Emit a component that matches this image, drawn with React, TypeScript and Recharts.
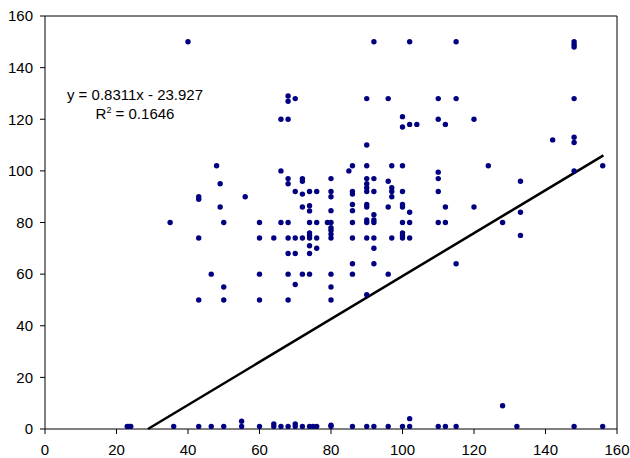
import React from 'react';
import { ScatterChart, Scatter, XAxis, YAxis, ReferenceLine } from 'recharts';

// axis ticks
const xTicks = [0, 20, 40, 60, 80, 100, 120, 140, 160];
const yTicks = [0, 20, 40, 60, 80, 100, 120, 140, 160];

// points, grouped by area
const topPoints: [number, number][] = [
  [40, 150], [92, 150], [102, 150], [115, 150], [148, 150], [148, 149], [148, 148],
  [68, 129], [68, 127], [70, 128], [66, 120], [68, 120], [90, 128], [96, 128],
  [100, 121], [100, 117], [102, 118], [104, 118], [90, 110],
  [110, 128], [115, 128], [148, 128], [110, 120], [112, 118], [120, 120],
  [142, 112], [148, 113], [148, 111],
];

const leftPoints: [number, number][] = [
  [48, 102], [49, 95], [43, 90], [43, 89], [49, 86], [35, 80], [50, 80], [43, 74],
  [46.5, 60], [50, 55], [43, 50], [50, 50],
];

const centerPoints: [number, number][] = [
  [66, 100], [68, 97], [68, 95], [72, 97], [72, 96], [56, 90], [70, 92], [72, 91],
  [74, 92], [76, 92], [72, 86], [74, 86.5], [74, 84.5], [80, 97], [80, 92], [80, 90],
  [80, 84.6], [85, 100], [86, 102], [90, 102], [97, 102], [100, 102], [86, 92], [86, 91],
  [86, 87], [86, 84.6], [90, 97], [90, 95], [90, 93.5], [90, 92], [92, 97], [92, 92],
  [90, 87], [90, 86], [92, 83], [96, 96], [97, 93.5], [97, 92], [97, 90], [100, 92],
  [96, 86], [100, 87], [100, 86], [102, 84],
  [60, 80], [66, 80], [68, 80], [74, 80], [76, 80], [79, 80], [80, 80], [86, 80],
  [90, 80], [92, 80], [100, 80], [102, 80],
  [90, 81], [92, 81], [80, 78], [80, 77], [80, 75.5], [74, 76], [74, 75], [100, 76], [100, 75],
  [60, 74], [64, 74], [68, 74], [70, 74], [72, 74], [74, 74], [76, 74], [80, 74],
  [86, 74], [90, 74], [92, 74], [97, 74], [100, 74], [102, 74],
  [74, 71], [76, 70], [92, 70], [68, 68], [70, 68], [74, 68], [86, 64], [92, 64],
  [60, 60], [68, 60], [72, 60], [74, 60], [80, 60], [86, 60], [96, 60],
  [70, 56], [80, 55], [60, 50], [68, 50], [80, 50], [90, 52],
];

const rightPoints: [number, number][] = [
  [110, 99.5], [110, 97], [110, 92], [112, 86], [120, 86], [110, 80], [112, 80],
  [124, 102], [133, 96], [133, 84], [128, 80], [133, 75], [115, 64], [148, 100], [156, 102],
];

const bottomPoints: [number, number][] = [
  [23, 1], [23.5, 1], [24, 1], [36, 1], [43, 1], [46.5, 1], [50, 1],
  [55, 3], [55, 1], [60, 1], [64, 2], [64, 1], [66, 1], [68, 1], [70, 2], [70, 1],
  [72, 1], [74, 1], [75, 1], [76, 1], [80, 1.5], [80, 1], [86, 1], [90, 1], [92, 1],
  [96, 1], [100, 1], [102, 4], [102, 1], [110, 1], [112, 1], [115, 1], [128, 9],
  [132, 1], [148, 1], [156, 1],
];

// trendline ends as drawn
const trendEnds = [{ x: 28.8, y: 0 }, { x: 156.2, y: 106 }];
const equation = 'y = 0.8311x - 23.927';
const rSquared = '0.1646';

const points = [...topPoints, ...leftPoints, ...centerPoints, ...rightPoints, ...bottomPoints]
  .map(([x, y]) => ({ x, y }));

const font = '"Liberation Sans", Arial, sans-serif';

const Dot = (props: any) => <circle cx={props.cx} cy={props.cy} r={2.7} fill="#000080" />;

export default function App() {
  return (
    <div style={{ position: 'absolute', left: 0, top: 0, width: 630, height: 458, background: '#fff' }}>
      <ScatterChart width={630} height={458} margin={{ top: 16, right: 13, left: 0, bottom: 0 }}>
        <XAxis
          type="number"
          dataKey="x"
          domain={[0, 160]}
          ticks={xTicks}
          height={29}
          stroke="#000"
          tickSize={5}
          tickMargin={10}
          tick={{ fill: '#000', fontSize: 15, fontFamily: font }}
          allowDataOverflow
        />
        <YAxis
          type="number"
          dataKey="y"
          domain={[0, 160]}
          ticks={yTicks}
          width={45}
          stroke="#000"
          tickSize={5}
          tickMargin={7}
          tick={{ fill: '#000', fontSize: 15, fontFamily: font }}
          allowDataOverflow
        />
        <ReferenceLine y={160} stroke="#000" />
        <ReferenceLine x={160} stroke="#000" />
        <Scatter data={points} shape={Dot} isAnimationActive={false} />
        <ReferenceLine segment={trendEnds} stroke="#000" strokeWidth={2.5} />
      </ScatterChart>
      <svg width={630} height={458} style={{ position: 'absolute', left: 0, top: 0, pointerEvents: 'none' }}>
        <text x={135} y={100} textAnchor="middle" fontSize={15} fontFamily={font} fill="#000">
          {equation}
        </text>
        <text x={135} y={119} textAnchor="middle" fontSize={15} fontFamily={font} fill="#000">
          R<tspan dy={-6} fontSize={9}>2</tspan>
          <tspan dy={6}>{' = ' + rSquared}</tspan>
        </text>
      </svg>
    </div>
  );
}
